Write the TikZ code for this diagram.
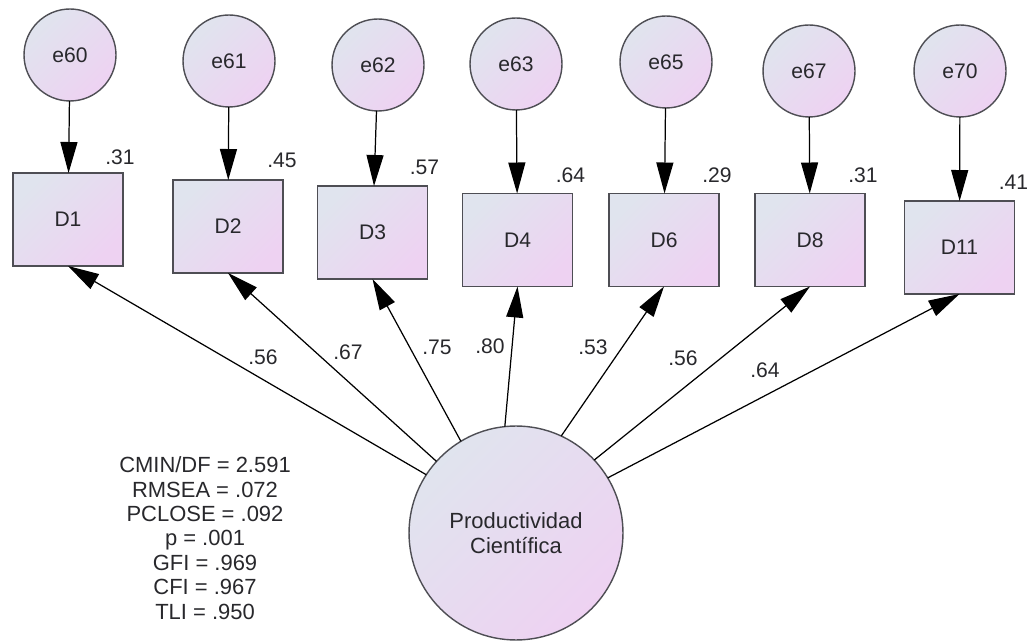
\documentclass[tikz,border=0pt]{standalone}
\usepackage{fontspec}
\setmainfont{Liberation Sans}
\usepackage{xcolor}
\usetikzlibrary{arrows.meta, positioning, shapes.geometric}

\definecolor{shadetl}{RGB}{224,228,238}
\definecolor{shadebr}{RGB}{238,210,242}
\definecolor{edgegray}{RGB}{78,78,84}
\definecolor{textgray}{RGB}{40,40,44}

\begin{document}
\begin{tikzpicture}[
  x=0.02cm, y=-0.02cm,
  errvar/.style={circle, draw=edgegray, line width=0.8pt, top color=shadetl, bottom color=shadebr, shading angle=45, minimum size=1.84cm, inner sep=0pt, outer sep=0pt, text=textgray, font=\fontsize{12}{14}\selectfont},
  obsvar/.style={rectangle, draw=edgegray, line width=0.9pt, top color=shadetl, bottom color=shadebr, shading angle=45, minimum width=2.2cm, minimum height=1.86cm, inner sep=0pt, outer sep=0pt, text=textgray, font=\fontsize{12}{14}\selectfont},
  latvar/.style={circle, draw=edgegray, line width=0.8pt, top color=shadetl, bottom color=shadebr, shading angle=45, minimum size=4.28cm, inner sep=0pt, outer sep=0pt, align=center, text=textgray, font=\fontsize{12.5}{14.5}\selectfont},
  rsq/.style={inner sep=1pt, text=textgray, font=\fontsize{12}{14}\selectfont},
  coef/.style={inner sep=1pt, text=textgray, font=\fontsize{12}{14}\selectfont},
  stats/.style={align=center, inner sep=0pt, text=textgray, font=\fontsize{12.5}{13.9}\selectfont},
  arrow/.style={-{Triangle[length=6.2mm, width=3.4mm]}, line width=0.7pt, draw=black}
]
  \useasboundingbox (0,0) rectangle (1030,644);

  % error terms
  \node[errvar] (e60) at (70,55) {e60};
  \node[errvar] (e61) at (229,61) {e61};
  \node[errvar] (e62) at (378,65) {e62};
  \node[errvar] (e63) at (516,64) {e63};
  \node[errvar] (e65) at (666,62) {e65};
  \node[errvar] (e67) at (809,71) {e67};
  \node[errvar] (e70) at (960,71) {e70};

  % observed items
  \node[obsvar] (D1) at (68,219.5) {D1};
  \node[obsvar] (D2) at (228,226.5) {D2};
  \node[obsvar] (D3) at (372.5,232.5) {D3};
  \node[obsvar] (D4) at (517.5,240) {D4};
  \node[obsvar] (D6) at (664,240) {D6};
  \node[obsvar] (D8) at (810,240) {D8};
  \node[obsvar] (D11) at (959.5,247.5) {D11};

  % squared multiple correlations
  \node[rsq] (r1) at ([shift={(-3,-16)}]D1.north east) {.31};
  \node[rsq] (r2) at ([shift={(-1,-20)}]D2.north east) {.45};
  \node[rsq] (r3) at ([shift={(-3,-19)}]D3.north east) {.57};
  \node[rsq] (r4) at ([shift={(-2,-18)}]D4.north east) {.64};
  \node[rsq] (r6) at ([shift={(-2,-18)}]D6.north east) {.29};
  \node[rsq] (r8) at ([shift={(-2,-18)}]D8.north east) {.31};
  \node[rsq] (r11) at ([shift={(-1,-19)}]D11.north east) {.41};

  % latent factor
  \node[latvar] (prod) at (516,533) {Productividad\\Científica};

  % fit indices
  \node[stats] (fit) at (205,538) {CMIN/DF = 2.591\\RMSEA = .072\\PCLOSE = .092\\p = .001\\GFI = .969\\CFI = .967\\TLI = .950};

  \draw[arrow] (e60) -- (D1);
  \draw[arrow] (e61) -- (D2);
  \draw[arrow] (e62) -- (D3);
  \draw[arrow] (e63) -- (D4);
  \draw[arrow] (e65) -- (D6);
  \draw[arrow] (e67) -- (D8);
  \draw[arrow] (e70) -- (D11);

  \draw[arrow] (prod.147) -- (D1.south);
  \draw[arrow] (prod.138) -- (D2.south);
  \draw[arrow] (prod.121) -- (D3.south);
  \draw[arrow] (prod.96) -- (D4.south);
  \draw[arrow] (prod.65) -- (D6.south);
  \draw[arrow] (prod.43) -- (D8.south);
  \draw[arrow] (prod.31) -- (D11.south);

  % standardized loadings
  \node[coef] (l1) at (263,357) {.56};
  \node[coef] (l2) at (348,352) {.67};
  \node[coef] (l3) at (437,347) {.75};
  \node[coef] (l4) at (490,346) {.80};
  \node[coef] (l6) at (593,347) {.53};
  \node[coef] (l8) at (683,358) {.56};
  \node[coef] (l11) at (765,370) {.64};
\end{tikzpicture}
\end{document}
